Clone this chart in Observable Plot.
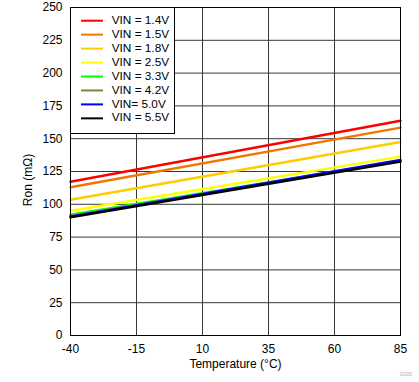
<!DOCTYPE html>
<html><head><meta charset="utf-8">
<script src="https://cdn.jsdelivr.net/npm/d3@7"></script>
<script src="https://cdn.jsdelivr.net/npm/@observablehq/plot@0.6"></script>
<style>
html,body{margin:0;padding:0;background:#fff;}
#wrap{position:relative;width:419px;height:382px;font-family:"Liberation Sans",Arial,sans-serif;overflow:hidden;}
#legend{position:absolute;left:70px;top:7px;width:105px;height:127px;box-sizing:border-box;border:1px solid #000;background:#fff;}
</style></head><body><div id="wrap"></div>
<script>
// Temperatures (°C) at which values are read
const temps = [-40, 85];
// Series
const seriesNames = ["VIN = 1.4V", "VIN = 1.5V", "VIN = 1.8V", "VIN = 2.5V", "VIN = 3.3V", "VIN = 4.2V", "VIN= 5.0V", "VIN = 5.5V"];
const seriesColors = ["#ff0000", "#f07800", "#ffcc00", "#ffff00", "#00ff00", "#6e8c3c", "#0000ff", "#000000"];
const vin14 = [117.2, 163.7];
const vin15 = [113.0, 158.4];
const vin18 = [103.5, 147.5];
const vin25 = [95.1, 136.3];
const vin33 = [92.1, 133.3];
const vin42 = [91.2, 133.0];
const vin50 = [90.6, 133.8];
const vin55 = [90.1, 132.5];
const seriesValues = [vin14, vin15, vin18, vin25, vin33, vin42, vin50, vin55];
// Ticks
const xTicks = [-40, -15, 10, 35, 60, 85];
const yTicks = [0, 25, 50, 75, 100, 125, 150, 175, 200, 225, 250];
const xLabel = "Temperature (°C)";
const yLabel = "Ron (mΩ)";

const lineMarks = seriesValues.map((vals, i) =>
  Plot.line(vals.map((v, j) => ({t: temps[j], ron: v})), {
    x: "t", y: "ron", stroke: seriesColors[i], strokeWidth: 2.4
  })
);

const chart = Plot.plot({
  width: 419, height: 382,
  marginLeft: 70, marginRight: 19, marginTop: 7, marginBottom: 47,
  style: {fontFamily: "'Liberation Sans', Arial, sans-serif", fontSize: "12px", color: "#000", background: "#fff", overflow: "visible"},
  x: {domain: [-40, 85], label: null},
  y: {domain: [0, 250], label: null},
  marks: [
    Plot.gridX(xTicks, {stroke: "#383838", strokeOpacity: 1}),
    Plot.gridY(yTicks, {stroke: "#383838", strokeOpacity: 1}),
    ...lineMarks,
    Plot.frame({stroke: "#000"}),
    Plot.axisX(xTicks, {tickSize: 0, tickPadding: 9, label: null, fill: "#000", tickFormat: d => String(d)}),
    Plot.axisY(yTicks, {tickSize: 0, tickPadding: 8, label: null, fill: "#000", tickFormat: d => String(d)})
  ]
});

const wrap = document.getElementById("wrap");
wrap.appendChild(chart);

const svg = d3.select(chart);
svg.append("text").attr("x", 235.5).attr("y", 365).attr("text-anchor", "middle")
  .attr("dominant-baseline", "middle").attr("font-size", 12).attr("fill", "#000").text(xLabel);
svg.append("text").attr("transform", "translate(29,180) rotate(-90)").attr("text-anchor", "middle")
  .attr("dominant-baseline", "middle").attr("font-size", 12).attr("fill", "#000").text(yLabel);
svg.append("text").attr("x", 412).attr("y", 376).attr("text-anchor", "end")
  .attr("font-size", 5).attr("fill", "#aaa").text("G000");

// Legend
const leg = d3.select(wrap).append("div").attr("id", "legend");
const lsvg = leg.append("svg").attr("width", 103).attr("height", 125).style("display", "block");
seriesNames.forEach((name, i) => {
  const y = 12.7 + i * 13.95;
  lsvg.append("line").attr("x1", 10).attr("x2", 32).attr("y1", y).attr("y2", y)
    .attr("stroke", seriesColors[i]).attr("stroke-width", 2);
  lsvg.append("text").attr("x", 40.7).attr("y", y).attr("dominant-baseline", "middle")
    .attr("font-size", 11.8).attr("font-family", "'Liberation Sans', Arial, sans-serif").attr("fill", "#000").text(name);
});
</script>
</body></html>
